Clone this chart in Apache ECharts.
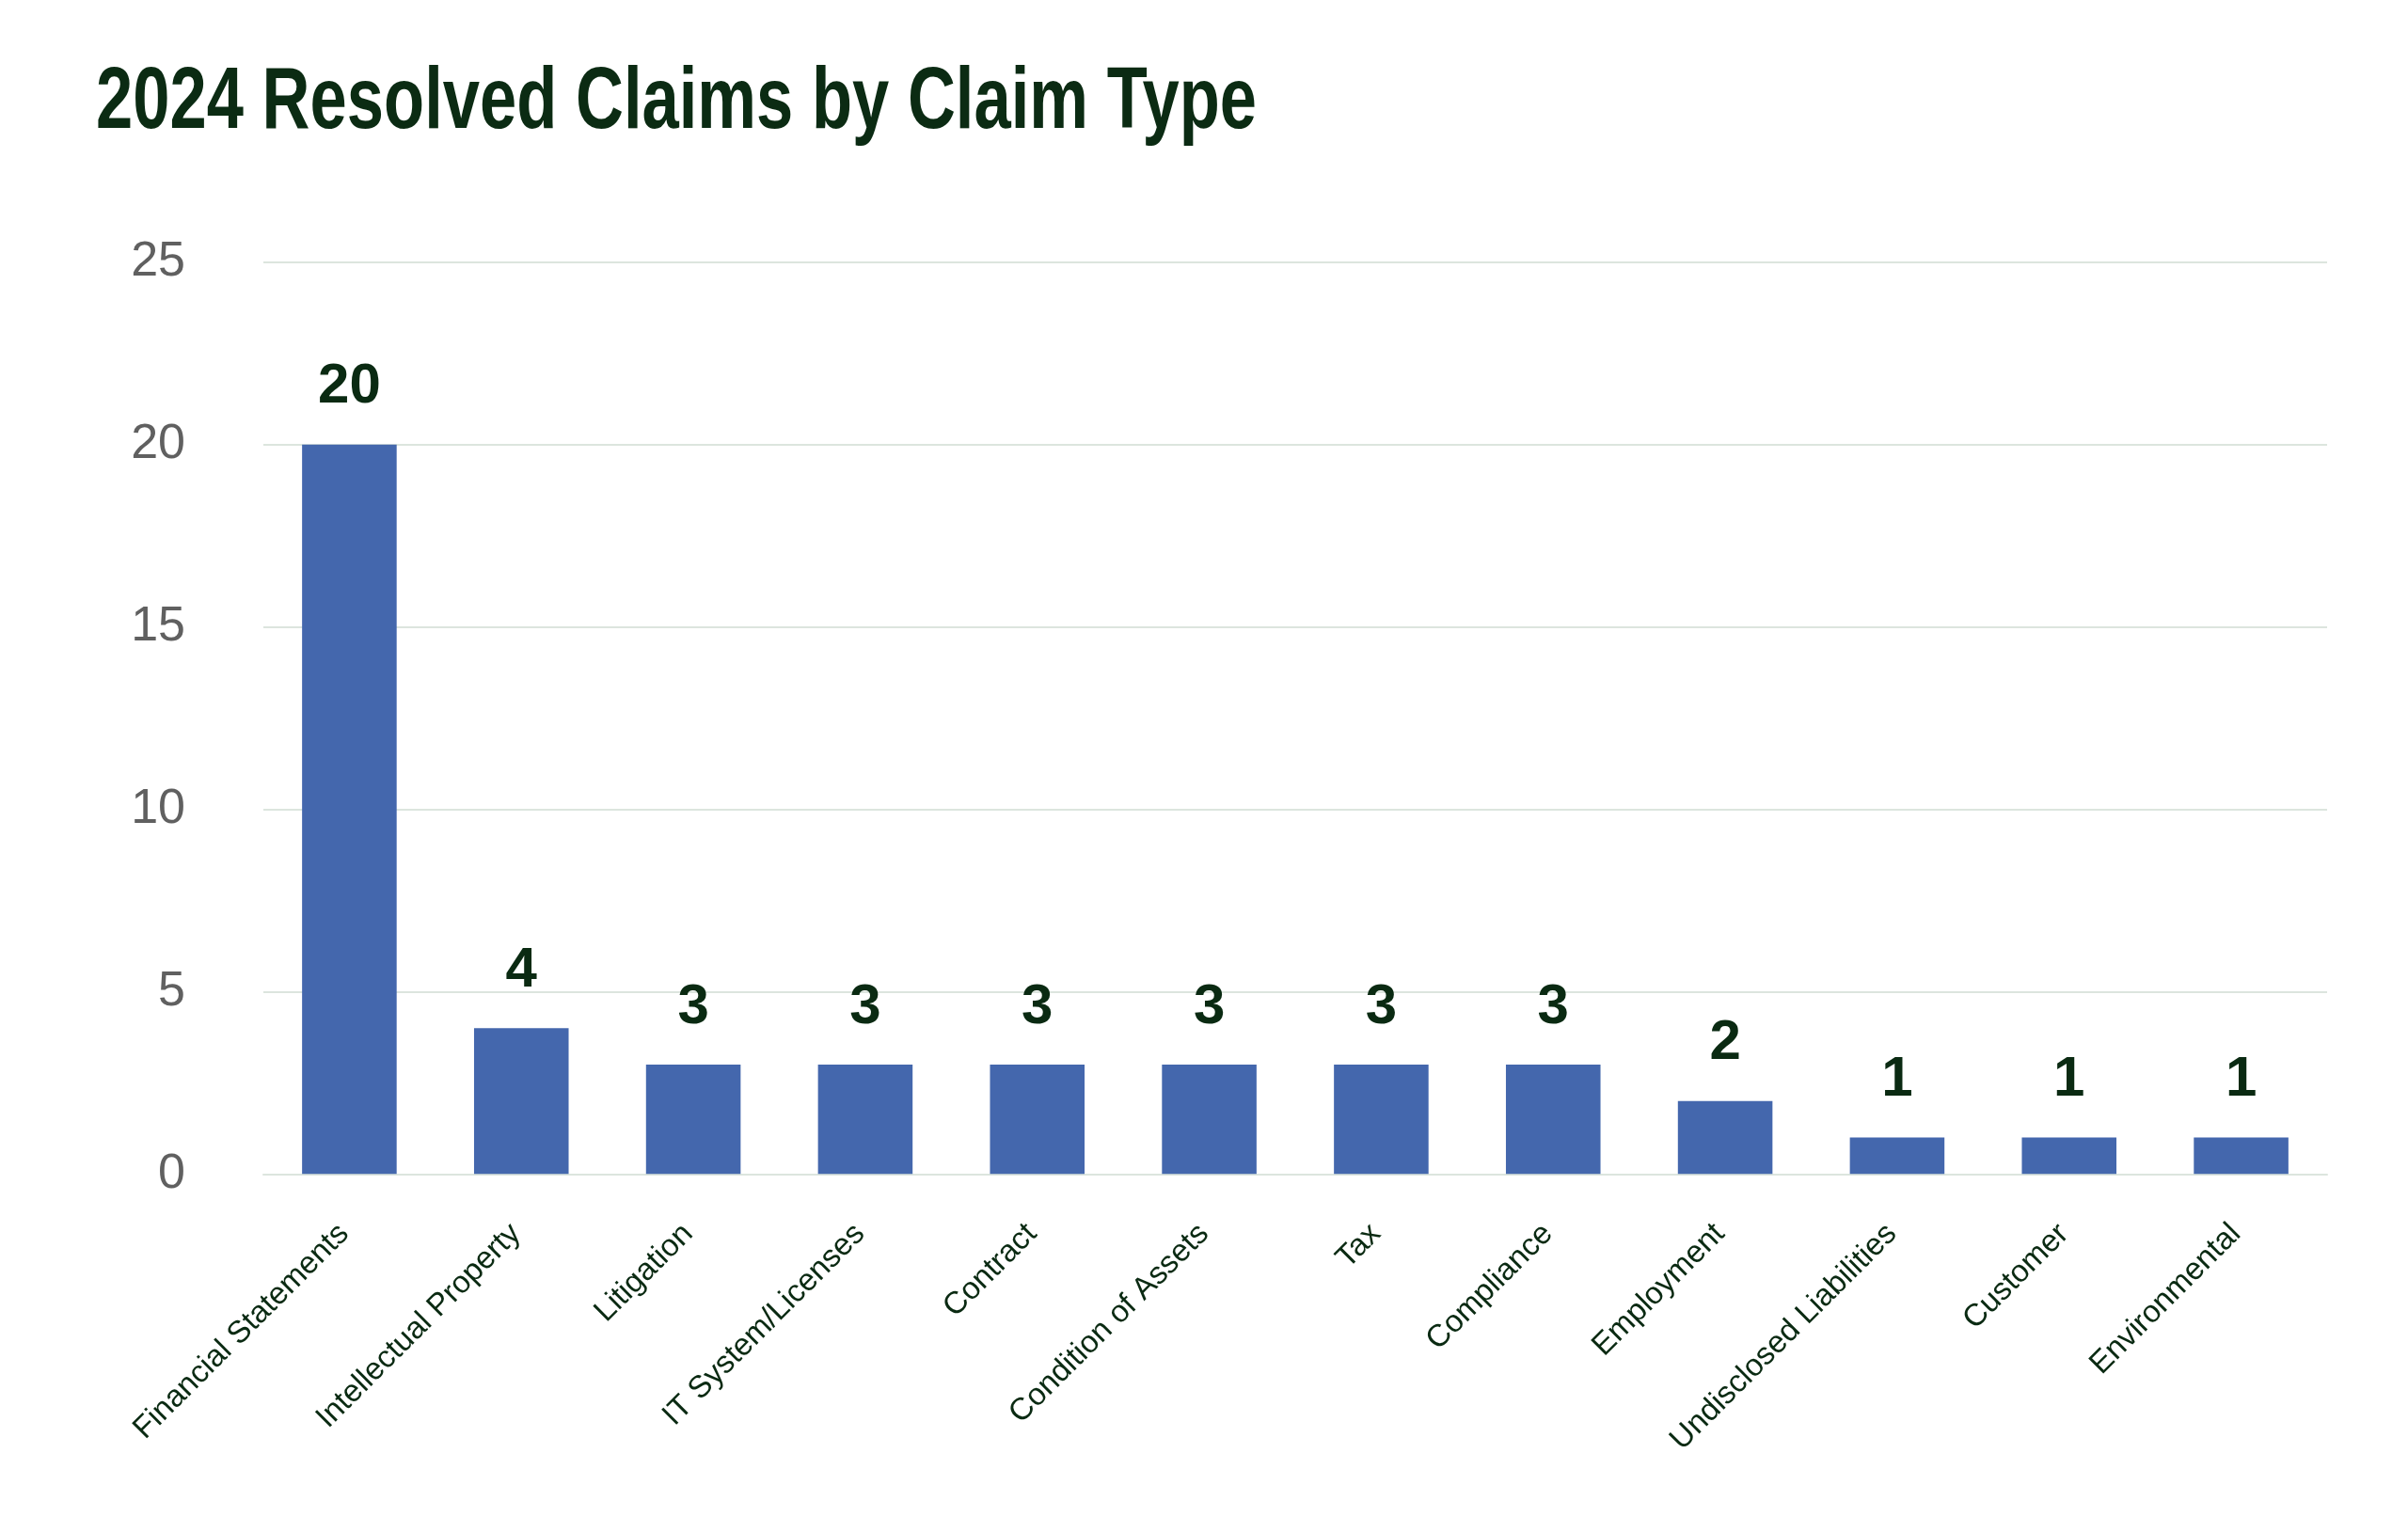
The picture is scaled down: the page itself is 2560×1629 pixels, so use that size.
<!DOCTYPE html>
<html>
<head>
<meta charset="utf-8">
<script src="https://cdn.jsdelivr.net/npm/echarts@6/dist/echarts.min.js"></script>
<style>
html,body{margin:0;padding:0;background:#fff;}
#c{width:2560px;height:1629px;}
</style>
</head>
<body>
<div id="c"></div>
<script>
const titleText = "2024 Resolved Claims by Claim Type";
const categories = ["Financial Statements","Intellectual Property","Litigation","IT System/Licenses","Contract","Condition of Assets","Tax","Compliance","Employment","Undisclosed Liabilities","Customer","Environmental"];
const claims = [20,4,3,3,3,3,3,3,2,1,1,1];
const yTicks = [0,5,10,15,20,25];

const FONT = '"Liberation Sans", Arial, sans-serif';
const chart = echarts.init(document.getElementById('c'));
chart.setOption({
  backgroundColor:'#ffffff',
  animation:false,
  graphic:[{
    type:'text',
    x:102, y:65,
    scaleX:0.767,
    style:{
      text:titleText,
      font:'bold 92px "Liberation Sans", Arial, sans-serif',
      fill:'#0b2b13',
      verticalAlign:'top',
      align:'left'
    }
  }],
  grid:{left:280,right:86,top:278.8,bottom:1629-1248.3,containLabel:false},
  xAxis:{
    type:'category',
    data:categories,
    axisLine:{show:true,lineStyle:{color:'#dce5de',width:2}},
    axisTick:{show:false},
    axisLabel:{rotate:45,margin:53,interval:0,fontFamily:FONT,fontSize:33,color:'#0a2a12',padding:[0,8,0,0]}
  },
  yAxis:{
    type:'value',
    min:yTicks[0],max:yTicks[yTicks.length-1],interval:5,
    axisLine:{show:false},axisTick:{show:false},
    splitLine:{lineStyle:{color:'#dce5de',width:2}},
    axisLabel:{margin:83,fontFamily:FONT,fontSize:52,color:'#606060',padding:[0,0,10,0]}
  },
  series:[{
    type:'bar',
    data:claims,
    barWidth:'55%',
    itemStyle:{color:'#4467ad'},
    label:{show:true,position:'top',distance:31,fontFamily:FONT,fontSize:60,fontWeight:'bold',color:'#0a2a12'}
  }]
});
</script>
</body>
</html>
